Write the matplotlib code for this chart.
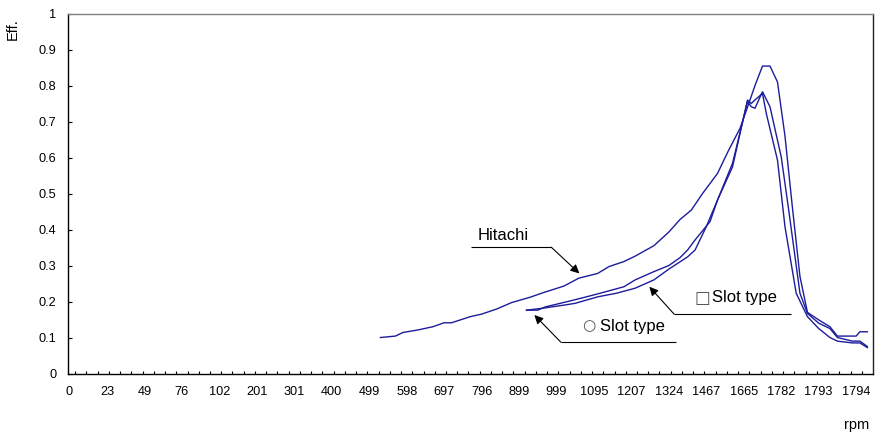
import matplotlib
matplotlib.use("Agg")
import matplotlib.pyplot as plt
import numpy as np

# Category axis: one category per measured row, labelled every 10th row
n_categories = 215
rpm_labels = ["0", "23", "49", "76", "102", "201", "301", "400", "499", "598",
              "697", "796", "899", "999", "1095", "1207", "1324", "1467",
              "1665", "1782", "1793", "1794"]

# Hitachi efficiency (row index, Eff.)
hitachi_idx = [83, 87, 89, 93, 97, 100, 102, 107, 110, 114, 118, 123, 126, 132,
               136, 141, 144, 148, 151, 156, 160, 163, 166, 169, 173, 176, 179,
               181, 183, 185, 187, 189, 191, 193, 195, 197, 200, 203, 205, 210,
               211, 213]
hitachi_eff = [0.100, 0.104, 0.114, 0.121, 0.130, 0.141, 0.141, 0.158, 0.165,
               0.179, 0.197, 0.212, 0.223, 0.243, 0.265, 0.278, 0.297, 0.311,
               0.326, 0.355, 0.393, 0.428, 0.454, 0.500, 0.556, 0.621, 0.681,
               0.740, 0.800, 0.854, 0.854, 0.810, 0.660, 0.460, 0.270, 0.170,
               0.149, 0.130, 0.104, 0.104, 0.116, 0.116]

# Circle slot type efficiency
slot_o_idx = [122, 125, 127, 131, 133, 138, 142, 148, 151, 156, 160, 163, 165,
              167, 171, 173, 177, 181, 182, 183, 185, 187, 190, 192, 195, 197,
              200, 203, 205, 209, 211, 213]
slot_o_eff = [0.176, 0.176, 0.185, 0.195, 0.200, 0.213, 0.224, 0.241, 0.260,
              0.283, 0.300, 0.322, 0.343, 0.371, 0.422, 0.482, 0.584, 0.755,
              0.741, 0.737, 0.783, 0.741, 0.602, 0.454, 0.223, 0.167, 0.140,
              0.125, 0.100, 0.090, 0.090, 0.075]

# Square slot type efficiency
slot_sq_idx = [122, 126, 132, 135, 141, 146, 151, 156, 160, 165, 167, 170, 173,
               177, 181, 182, 183, 185, 186, 189, 191, 194, 197, 200, 203, 205,
               209, 211, 213]
slot_sq_eff = [0.176, 0.181, 0.190, 0.195, 0.213, 0.223, 0.237, 0.260, 0.290,
               0.324, 0.343, 0.408, 0.482, 0.574, 0.760, 0.750, 0.760, 0.778,
               0.723, 0.593, 0.408, 0.223, 0.158, 0.125, 0.100, 0.090, 0.085,
               0.085, 0.072]

LINE = "#1c1c9c"
TXT = ["Liberation Sans", "DejaVu Sans"]

fig = plt.figure(figsize=(8.87, 4.36), dpi=100)
ax = fig.add_axes([0.0763, 0.1433, 0.9079, 0.8257])

for xi, yi in ((hitachi_idx, hitachi_eff), (slot_o_idx, slot_o_eff),
               (slot_sq_idx, slot_sq_eff)):
    ax.plot(xi, yi, color=LINE, lw=1.0, solid_joinstyle="miter")

ax.set_xlim(-0.5, n_categories - 0.5)
ax.set_ylim(0, 1)

ax.set_xticks(np.arange(0, 10 * len(rpm_labels), 10))
ax.set_xticklabels(rpm_labels, family=TXT, fontsize=9.2)
ax.set_xticks(np.arange(1.5, n_categories - 1, 3), minor=True)
ax.tick_params(axis="x", which="major", length=0, pad=9)
ax.tick_params(axis="x", which="minor", direction="in", length=2.4, width=0.8)

yt = np.round(np.arange(0, 1.01, 0.1), 1)
ax.set_yticks(yt)
ax.set_yticklabels(["0" if v == 0 else ("1" if v == 1 else f"{v:g}") for v in yt],
                   family=TXT, fontsize=9.2)
ax.tick_params(axis="y", direction="in", length=3, width=0.8, pad=8)

for s in ("left", "bottom"):
    ax.spines[s].set_color("black")
    ax.spines[s].set_linewidth(1.0)
ax.spines["top"].set_color("#808080")
ax.spines["right"].set_color("#202020")
for s in ("top", "right"):
    ax.spines[s].set_linewidth(1.0)

fig.text(13 / 887, 1 - 29 / 436, "Eff.", rotation=90, ha="center", va="center",
         family=TXT, fontsize=10.5)
fig.text(857 / 887, 1 - 425 / 436, "rpm", ha="center", va="center",
         family=TXT, fontsize=10.5)

def callout(line_x0, line_x1, line_y, elbow_x, tip):
    ax.plot([line_x0, line_x1], [line_y, line_y], color="black", lw=0.8,
            solid_capstyle="butt")
    ax.annotate("", xy=tip, xytext=(elbow_x, line_y),
                arrowprops=dict(arrowstyle="-|>", color="black", lw=0.8,
                                mutation_scale=13, shrinkA=0, shrinkB=0))

# Hitachi
ax.text(108.9, 0.382, "Hitachi", family=TXT, fontsize=12, va="center", ha="left")
callout(107.3, 128.6, 0.351, 128.6, (136.1, 0.278))

# Circle slot type
ax.text(138.5, 0.132, "\u25cb", family=["DejaVu Sans"], fontsize=11,
        color="#505050", va="center", ha="center")
ax.text(141.5, 0.132, "Slot type", family=TXT, fontsize=12, va="center", ha="left")
callout(131.2, 161.9, 0.0867, 131.2, (124.1, 0.1625))

# Square slot type
ax.text(168.9, 0.210, "\u25a1", family=["DejaVu Sans"], fontsize=12,
        color="#505050", va="center", ha="center")
ax.text(171.6, 0.210, "Slot type", family=TXT, fontsize=12, va="center", ha="left")
callout(161.4, 192.6, 0.165, 161.4, (154.8, 0.241))

fig.savefig("out.png", dpi=100)
